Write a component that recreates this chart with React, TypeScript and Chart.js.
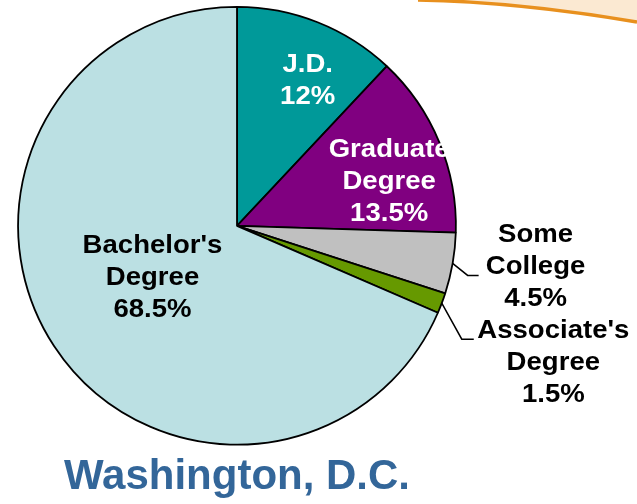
import React, { useEffect, useRef } from "react";
import { Chart, registerables } from "chart.js";

Chart.register(...registerables);

const categories = ["J.D.", "Graduate Degree", "Some College", "Associate's Degree", "Bachelor's Degree"];
const shares = [12, 13.5, 4.5, 1.5, 68.5];
const sliceColors = ["#009999", "#800080", "#C0C0C0", "#669900", "#BBE0E3"];
const titleText = "Washington, D.C.";

const FONT = "'Liberation Sans', Arial, Helvetica, sans-serif";

// label placement (fractions of the pie radius from its centre) and styling
const labelLayout = [
  { fx: 0.323, fy: -0.66, color: "#ffffff" },
  { fx: 0.695, fy: -0.2, color: "#ffffff" },
  { fx: 1.364, fy: 0.186, color: "#000000", leader: [[15, 12], [11, 0]] },
  { fx: 1.445, fy: 0.627, color: "#000000", leader: [[20, 36], [12, 0]] },
  { fx: -0.386, fy: 0.236, color: "#000000" },
];

const swooshPlugin = {
  id: "swoosh",
  beforeDraw(chart: any) {
    const ctx = chart.ctx;
    ctx.save();
    ctx.beginPath();
    ctx.moveTo(418, 0);
    ctx.quadraticCurveTo(520, 2, 637, 22);
    ctx.lineTo(637, 0);
    ctx.closePath();
    ctx.fillStyle = "#FBE9D2";
    ctx.fill();
    ctx.beginPath();
    ctx.moveTo(418, 0);
    ctx.quadraticCurveTo(520, 2, 637, 22);
    ctx.strokeStyle = "#E8901E";
    ctx.lineWidth = 3.5;
    ctx.stroke();
    ctx.restore();
  },
};

const sliceLabelPlugin = {
  id: "sliceLabels",
  afterDatasetsDraw(chart: any) {
    const ctx = chart.ctx;
    const meta = chart.getDatasetMeta(0);
    ctx.save();
    ctx.font = `bold 26px ${FONT}`;
    ctx.textAlign = "center";
    ctx.textBaseline = "middle";
    meta.data.forEach((arc: any, i: number) => {
      const p = arc.getProps(["x", "y", "outerRadius", "startAngle", "endAngle"], true);
      const cx = p.x, cy = p.y, r = p.outerRadius;
      const lay = labelLayout[i];
      const lines = [...categories[i].split(" "), `${shares[i]}%`];
      const bx = cx + lay.fx * r;
      const by = cy + lay.fy * r;
      const pitch = 32;
      const top = by - ((lines.length - 1) * pitch) / 2;
      ctx.fillStyle = lay.color;
      lines.forEach((t, k) => {
        ctx.save();
        ctx.translate(bx, top + k * pitch);
        ctx.scale(1.06, 1);
        ctx.fillText(t, 0, 0);
        ctx.restore();
      });
      if (lay.leader) {
        const mid = (p.startAngle + p.endAngle) / 2;
        let x = cx + Math.cos(mid) * r;
        let y = cy + Math.sin(mid) * r;
        ctx.beginPath();
        ctx.moveTo(x, y);
        lay.leader.forEach(([dx, dy]: number[]) => {
          x += dx;
          y += dy;
          ctx.lineTo(x, y);
        });
        ctx.strokeStyle = "#000000";
        ctx.lineWidth = 1.5;
        ctx.stroke();
      }
    });
    ctx.restore();
  },
};

export default function App() {
  const ref = useRef<HTMLCanvasElement | null>(null);
  useEffect(() => {
    if (!ref.current) return;
    const chart = new Chart(ref.current, {
      type: "pie",
      data: {
        labels: categories,
        datasets: [
          {
            data: shares,
            backgroundColor: sliceColors,
            borderColor: "#000000",
            borderWidth: 1.8,
          },
        ],
      },
      options: {
        responsive: false,
        animation: false,
        devicePixelRatio: 1,
        layout: { padding: { left: 17, right: 180, top: 6, bottom: 1 } },
        plugins: {
          legend: { display: false },
          tooltip: { enabled: false },
          title: {
            display: true,
            text: titleText,
            position: "bottom",
            color: "#336699",
            font: { family: FONT, size: 42, weight: "bold", lineHeight: 1.2 },
            padding: { top: 7, bottom: 0 },
          },
        },
      } as any,
      plugins: [swooshPlugin, sliceLabelPlugin],
    });
    return () => chart.destroy();
  }, []);
  return (
    <div style={{ position: "absolute", left: 0, top: 0, width: 637, height: 504, background: "#ffffff" }}>
      <canvas ref={ref} width={637} height={504} />
    </div>
  );
}
